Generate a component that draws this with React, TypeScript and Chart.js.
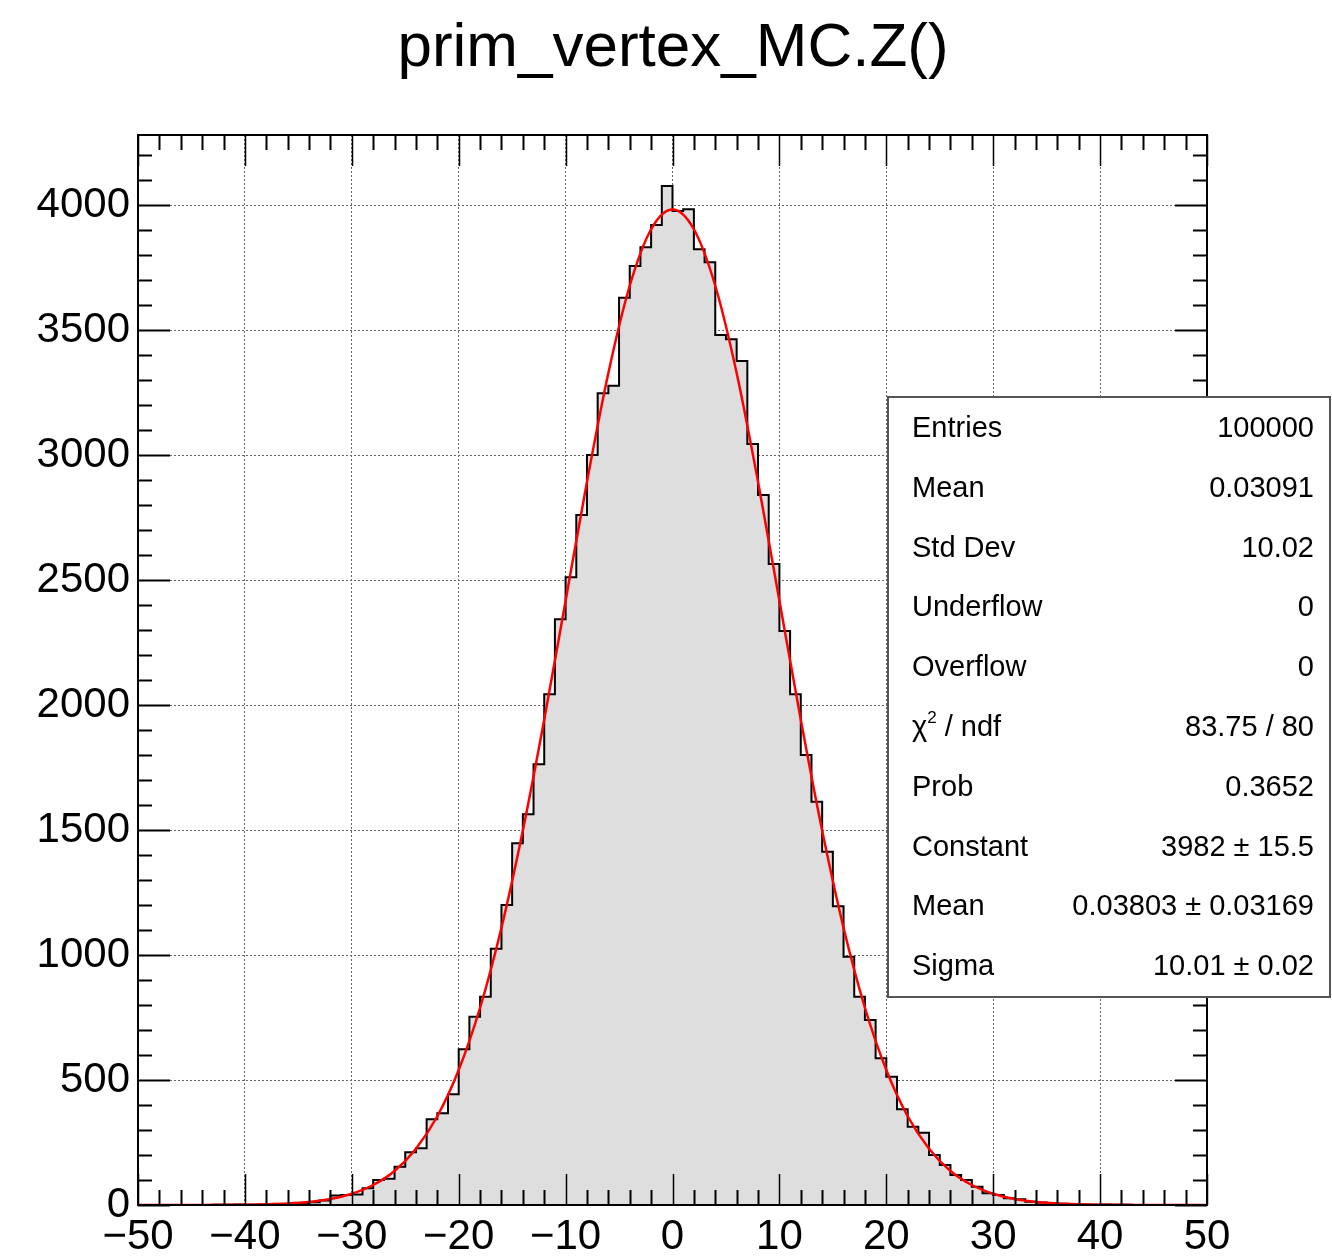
import { useEffect, useRef } from 'react';
import { Chart, registerables } from 'chart.js';

Chart.register(...registerables);

// ---- data ----
const histTitle = 'prim_vertex_MC.Z()';
const xMin = -50;
const xMax = 50;
const binWidth = 1;

// counts per bin, lower edges -50 ... 49
const binCounts = [
  0, 0, 0, 0, 0, 0, 0, 1, 1, 2,
  1, 1, 2, 3, 4, 8, 11, 18, 38, 40,
  42, 67, 100, 105, 153, 211, 227, 343, 367, 443,
  623, 753, 833, 1025, 1200, 1447, 1563, 1763, 2043, 2343,
  2511, 2760, 3000, 3247, 3277, 3629, 3756, 3831, 3920, 4076,
  3976, 3983, 3823, 3771, 3480, 3463, 3376, 3044, 2840, 2564,
  2296, 2043, 1800, 1613, 1413, 1195, 993, 833, 740, 587,
  513, 383, 313, 289, 200, 160, 120, 100, 73, 47,
  40, 27, 23, 13, 10, 7, 5, 3, 2, 1,
  2, 1, 1, 0, 0, 0, 0, 0, 0, 0,
];

// red fit curve
const fitX = [
  -50, -48, -46, -44, -42, -40, -38, -36, -34, -32, -30, -28, -26, -24, -22, -20, -18, -16, -14, -12, -10, -8, -6, -4, -2,
  0, 2, 4, 6, 8, 10, 12, 14, 16, 18, 20, 22, 24, 26, 28, 30, 32, 34, 36, 38, 40, 42, 44, 46, 48, 50,
];
const fitY = [
  0, 0, 0, 0.2, 0.6, 1.4, 3, 6, 12, 24, 45, 80, 136, 225, 355, 540, 789, 1109, 1498, 1941, 2417, 2893, 3328, 3677, 3903,
  3982, 3903, 3677, 3328, 2893, 2417, 1941, 1498, 1109, 789, 540, 355, 225, 136, 80, 45, 24, 12, 6, 3, 1.4, 0.6, 0.2, 0, 0, 0,
];

const xTickValues = [-50, -40, -30, -20, -10, 0, 10, 20, 30, 40, 50];
const yTickValues = [0, 500, 1000, 1500, 2000, 2500, 3000, 3500, 4000];
const yMax = 4280;

const statsLabels = ['Entries', 'Mean', 'Std Dev', 'Underflow', 'Overflow', 'CHI2', 'Prob', 'Constant', 'Mean', 'Sigma'];
const statsValues = [
  '100000',
  '0.03091',
  '10.02',
  '0',
  '0',
  '83.75 / 80',
  '0.3652',
  '3982 \u00b1 15.5',
  '0.03803 \u00b1 0.03169',
  '10.01 \u00b1 0.02',
];

const FONT = '"Liberation Sans", Arial, Helvetica, sans-serif';

const rootPlugin = {
  id: 'rootDecor',
  beforeDraw(chart: any) {
    const ctx = chart.ctx;
    ctx.save();
    ctx.fillStyle = '#ffffff';
    ctx.fillRect(0, 0, chart.width, chart.height);
    ctx.restore();
  },
  afterDatasetsDraw(chart: any) {
    const ctx = chart.ctx;
    const { left, right, top, bottom } = chart.chartArea;
    const xs = chart.scales.x;
    const ys = chart.scales.y;
    ctx.save();
    ctx.strokeStyle = '#000';
    ctx.lineWidth = 2;
    // x ticks (bottom & top, inside)
    for (let v = xMin; v <= xMax + 1e-9; v += 2) {
      const px = Math.round(xs.getPixelForValue(v)) + 0.5;
      const major = Math.abs(v % 10) < 1e-9;
      const len = major ? 31 : 15;
      ctx.lineWidth = major ? 1.5 : 2;
      ctx.beginPath();
      ctx.moveTo(px, bottom);
      ctx.lineTo(px, bottom - len);
      ctx.moveTo(px, top);
      ctx.lineTo(px, top + len);
      ctx.stroke();
    }
    // y ticks (left & right, inside)
    for (let v = 0; v <= yMax; v += 100) {
      const py = Math.round(ys.getPixelForValue(v)) + 0.5;
      const major = v % 500 === 0;
      const len = major ? 32 : 14;
      ctx.lineWidth = 2;
      ctx.beginPath();
      ctx.moveTo(left, py);
      ctx.lineTo(left + len, py);
      ctx.moveTo(right, py);
      ctx.lineTo(right - len, py);
      ctx.stroke();
    }
    // frame
    ctx.lineWidth = 2;
    ctx.strokeRect(left, top, right - left, bottom - top);
    ctx.restore();
  },
  afterDraw(chart: any) {
    const ctx = chart.ctx;
    ctx.save();
    // title
    ctx.fillStyle = '#000';
    ctx.font = `62px ${FONT}`;
    ctx.textAlign = 'center';
    ctx.textBaseline = 'alphabetic';
    ctx.fillText(histTitle, 673, 66);

    // stats box
    const bx = 888;
    const by = 397;
    const bw = 442;
    const bh = 600;
    ctx.fillStyle = '#ffffff';
    ctx.fillRect(bx, by, bw, bh);
    ctx.strokeStyle = '#555';
    ctx.lineWidth = 2;
    ctx.strokeRect(bx, by, bw, bh);

    ctx.fillStyle = '#000';
    const rowH = 59.8;
    const fs = 29;
    for (let i = 0; i < statsLabels.length; i++) {
      const cy = by + 30 + rowH * i;
      const base = cy + 10;
      ctx.font = `${fs}px ${FONT}`;
      ctx.textAlign = 'left';
      if (statsLabels[i] === 'CHI2') {
        let x = 912;
        ctx.fillText('\u03c7', x, base);
        x += ctx.measureText('\u03c7').width;
        ctx.font = `17px ${FONT}`;
        ctx.fillText('2', x, base - 13);
        x += ctx.measureText('2').width;
        ctx.font = `${fs}px ${FONT}`;
        ctx.fillText(' / ndf', x, base);
      } else {
        ctx.fillText(statsLabels[i], 912, base);
      }
      ctx.textAlign = 'right';
      ctx.fillText(statsValues[i], 1314, base);
    }
    ctx.restore();
  },
};

export default function App() {
  const ref = useRef<HTMLCanvasElement | null>(null);

  useEffect(() => {
    document.body.style.margin = '0';
    const histPoints = binCounts.map((c, i) => ({ x: xMin + i * binWidth, y: c }));
    histPoints.push({ x: xMax, y: 0 });
    const fitPoints = fitX.map((x, i) => ({ x, y: fitY[i] }));

    const tickFont = { family: FONT, size: 42 };
    const chart = new Chart(ref.current as HTMLCanvasElement, {
      type: 'line',
      data: {
        datasets: [
          {
            label: 'fit',
            data: fitPoints,
            borderColor: '#ff0000',
            borderWidth: 2.5,
            pointRadius: 0,
            cubicInterpolationMode: 'monotone',
            fill: false,
            order: 0,
          } as any,
          {
            label: 'hist',
            data: histPoints,
            stepped: true,
            borderColor: '#000000',
            borderWidth: 2,
            backgroundColor: '#dedede',
            fill: 'origin',
            pointRadius: 0,
            order: 1,
          } as any,
        ],
      },
      options: {
        animation: false,
        responsive: false,
        devicePixelRatio: 1,
        layout: { padding: { left: 0, right: 125, top: 135, bottom: 0 } },
        plugins: {
          legend: { display: false },
          tooltip: { enabled: false },
          title: { display: false },
        },
        scales: {
          x: {
            type: 'linear',
            min: xMin,
            max: xMax,
            afterBuildTicks(scale: any) {
              scale.ticks = xTickValues.map((v) => ({ value: v }));
            },
            afterFit(scale: any) {
              scale.height = 55;
            },
            ticks: {
              font: tickFont,
              color: '#000',
              padding: 7,
              autoSkip: false,
              maxRotation: 0,
              callback: (v: any) => (v < 0 ? '\u2212' + Math.abs(v) : String(v)),
            },
            grid: { color: '#666666', lineWidth: 1, drawTicks: false },
            border: { display: false, dash: [2, 2] },
          },
          y: {
            type: 'linear',
            min: 0,
            max: yMax,
            afterBuildTicks(scale: any) {
              scale.ticks = yTickValues.map((v) => ({ value: v }));
            },
            afterFit(scale: any) {
              scale.width = 138;
            },
            ticks: {
              font: tickFont,
              color: '#000',
              padding: 8,
              autoSkip: false,
              callback: (v: any) => String(v),
            },
            grid: { color: '#666666', lineWidth: 1, drawTicks: false },
            border: { display: false, dash: [2, 2] },
          },
        },
      } as any,
      plugins: [rootPlugin],
    });
    return () => chart.destroy();
  }, []);

  return (
    <div style={{ position: 'absolute', left: 0, top: 0, width: 1332, height: 1260 }}>
      <canvas ref={ref} width={1332} height={1260} style={{ width: 1332, height: 1260, display: 'block' }} />
    </div>
  );
}
